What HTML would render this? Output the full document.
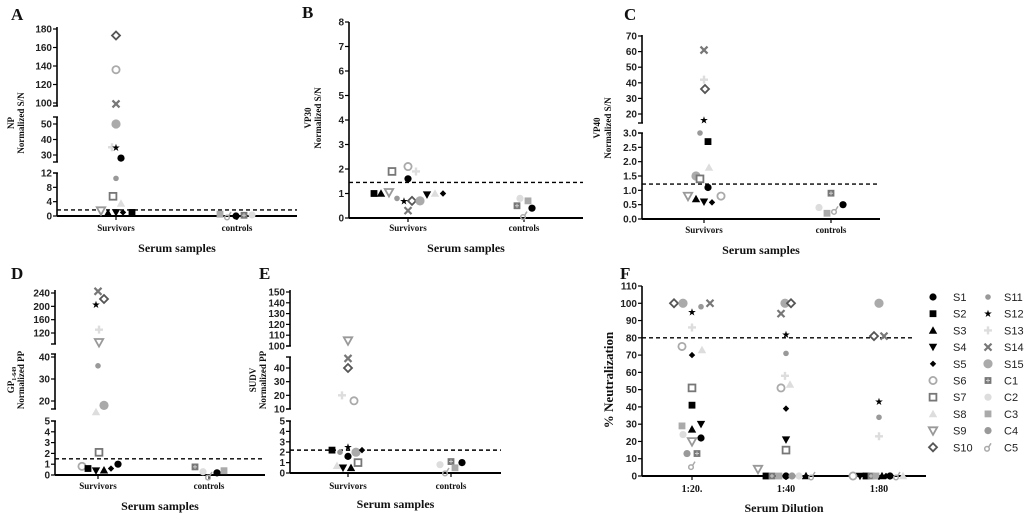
<!DOCTYPE html>
<html><head><meta charset="utf-8">
<style>
html,body{margin:0;padding:0;background:#fff;}
svg{display:block;}
.tk{font-family:"Liberation Sans",sans-serif;font-size:10px;font-weight:bold;fill:#222;}
.sf{font-family:"Liberation Serif",serif;font-weight:bold;fill:#111;}
</style></head>
<body>
<svg id="chart" width="1024" height="518" viewBox="0 0 1024 518" xmlns="http://www.w3.org/2000/svg"></svg>
<script>
// ---------- data ----------
const seriesNames = ["S1","S2","S3","S4","S5","S6","S7","S8","S9","S10","S11","S12","S13","S14","S15","C1","C2","C3","C4","C5"];
const catsAE = ["Survivors","controls"];
const catsF = ["1:20.","1:40","1:80"];
// each point: [series, categoryIndex, value, jitter(px)]
const dataA = [["S10",0,173,0],["S6",0,136,0],["S14",0,99,0],["S15",0,50,0],["S13",0,35,-4],["S12",0,35,0],["S1",0,28,5],["S11",0,10.5,0],["S7",0,5.5,-3],["S8",0,3.5,5],["S9",0,1.5,-15],["S3",0,0.8,-8],["S4",0,1,0],["S5",0,1,7],["S2",0,1,16],
 ["C3",1,0.5,-17],["C5",1,0,-9],["S1",1,0,-1],["C1",1,0.2,7],["C2",1,0.3,15]];
const dataB = [["S2",0,1.0,-34],["S3",0,1.0,-27],["S9",0,1.05,-19],["S11",0,0.8,-11],["S12",0,0.7,-4],["S14",0,0.3,0],["S10",0,0.7,4],["S15",0,0.7,12],["S4",0,0.95,19],["S8",0,1.0,27],["S5",0,1.0,35],["S7",0,1.9,-16],["S6",0,2.1,0],["S13",0,1.9,8],["S1",0,1.6,0],
 ["C1",1,0.5,-7],["C2",1,0.8,-4],["C3",1,0.7,4],["C5",1,0.1,0],["S1",1,0.4,8]];
const dataC = [["S14",0,61,0],["S13",0,42,0],["S10",0,36,1],["S12",0,16,0],["S11",0,3.0,-4],["S2",0,2.7,4],["S8",0,1.8,5],["S15",0,1.5,-8],["S7",0,1.4,-4],["S1",0,1.1,4],["S9",0,0.8,-16],["S3",0,0.7,-8],["S4",0,0.6,0],["S5",0,0.58,8],["S6",0,0.8,17],
 ["C2",1,0.4,-12],["C3",1,0.2,-4],["C5",1,0.3,4],["C1",1,0.9,0],["S1",1,0.5,12]];
const dataD = [["S14",0,245,0],["S10",0,222,6],["S12",0,205,-2],["S13",0,130,1],["S9",0,92,1],["S11",0,36,0],["S15",0,18,6],["S8",0,15,-2],["S7",0,2.1,1],["S6",0,0.8,-16],["S2",0,0.6,-10],["S4",0,0.4,-2],["S3",0,0.45,6],["S5",0,0.6,13],["S1",0,1.0,20],
 ["C1",1,0.75,-14],["C2",1,0.3,-6],["C5",1,-0.1,0],["S1",1,0.2,8],["C3",1,0.4,15]];
const dataE = [["S9",0,105,0],["S14",0,47,0],["S10",0,40,0],["S13",0,20,-6],["S6",0,16,6],["S2",0,2.2,-16],["S11",0,2.0,-8],["S12",0,2.5,0],["S15",0,2.0,8],["S5",0,2.2,14],["S1",0,1.6,0],["S8",0,0.7,-11],["S4",0,0.5,-5],["S3",0,0.5,3],["S7",0,1.0,10],
 ["C2",1,0.8,-11],["C5",1,0.1,-5],["C1",1,1.1,0],["C3",1,0.5,4],["S1",1,1.0,11]];
const dataF = [["S10",0,100,-18],["S15",0,100,-9],["S11",0,98,9],["S14",0,100,18],["S12",0,95,0],["S13",0,86,0],["S6",0,75,-10],["S8",0,73,10],["S5",0,70,0],["S7",0,51,0],["S2",0,41,0],["C3",0,29,-10],["S3",0,27,0],["S4",0,30,9],["C2",0,24,-9],["S9",0,20,0],["S1",0,22,9],["C4",0,13,-5],["C1",0,13,5],["C5",0,6,0],
 ["S15",1,100,-1],["S10",1,100,5],["S14",1,94,-5],["S12",1,82,0],["S11",1,71,0],["S13",1,58,-1],["S6",1,51,-5],["S8",1,53,4],["S5",1,39,0],["S4",1,21,0],["S7",1,15,0],["S9",1,4,-28],["S2",1,0,-20],["C1",1,0,-14],["C3",1,0,-7],["S1",1,0,0],["C4",1,0,6],["C2",1,0,13],["S3",1,0,20],["C5",1,0,26],
 ["S15",2,100,0],["S10",2,81,-5],["S14",2,81,5],["S12",2,43,0],["S11",2,34,0],["S13",2,23,0],["S6",2,0,-26],["S4",2,0,-19],["S2",2,0,-13],["C1",2,0,-8],["C3",2,0,-3],["S3",2,0,3],["S5",2,0,7],["S1",2,0,11],["C5",2,0,18],["S8",2,0,24]];
const thresholds = {A:1.7,B:1.45,C:1.22,D:1.5,E:2.2,F:80};
const ticksA=[[0,4,8,12],[30,40,50],[100,120,140,160,180]];
const ticksB=[[0,1,2,3,4,5,6,7,8]];
const ticksC=[[0,0.5,1,1.5,2,2.5,3],[20,30,40,50,60,70]];
const ticksD=[[0,1,2,3,4,5],[20,30,40],[120,160,200,240]];
const ticksE=[[0,1,2,3,4,5],[10,20,30,40],[100,110,120,130,140,150]];
const ticksF=[0,10,20,30,40,50,60,70,80,90,100,110];

// ---------- drawing ----------
const NS="http://www.w3.org/2000/svg";
const svg=document.getElementById('chart');
function el(tag,attrs,parent){const e=document.createElementNS(NS,tag);for(const k in attrs)e.setAttribute(k,attrs[k]);(parent||svg).appendChild(e);return e;}
function txt(s,attrs,parent){const e=el('text',attrs,parent);e.textContent=s;return e;}

const styles={S1:['circle','#000',1],S2:['square','#000',1],S3:['tri','#000',1],S4:['dtri','#000',1],S5:['sdiam','#000',1],
S6:['circle','#aaa',0],S7:['square','#777',0],S8:['tri','#ddd',1],S9:['dtri','#999',0],S10:['diam','#555',0],
S11:['scircle','#999',1],S12:['star','#000',1],S13:['plus','#ddd',1],S14:['x','#777',1],S15:['bcircle','#aaa',1],
C1:['csquare','#777',1],C2:['circle','#ddd',1],C3:['square','#aaa',1],C4:['circle','#999',1],C5:['male','#aaa',1]};

function marker(g,name,x,y){
  const [t,c,f]=styles[name];
  const fill=f?c:'#fff';
  let e;
  switch(t){
   case 'circle': e=el('circle',{cx:x,cy:y,r:3.6,fill:fill,stroke:c,'stroke-width':f?0:1.8},g);break;
   case 'bcircle': e=el('circle',{cx:x,cy:y,r:4.6,fill:c},g);break;
   case 'scircle': e=el('circle',{cx:x,cy:y,r:2.8,fill:c},g);break;
   case 'square': e=el('rect',{x:x-3.4,y:y-3.4,width:6.8,height:6.8,fill:fill,stroke:c,'stroke-width':f?0:1.8},g);break;
   case 'csquare': e=el('g',{},g);el('rect',{x:x-3.4,y:y-3.4,width:6.8,height:6.8,fill:c},e);el('path',{d:`M${x-2} ${y}H${x+2}M${x} ${y-2}V${y+2}`,stroke:'#ccc','stroke-width':1},e);break;
   case 'tri': e=el('polygon',{points:`${x},${y-4.2} ${x+4.2},${y+3.3} ${x-4.2},${y+3.3}`,fill:fill,stroke:c,'stroke-width':f?0:1.8},g);break;
   case 'dtri': e=el('polygon',{points:`${x},${y+4.2} ${x+4.2},${y-3.3} ${x-4.2},${y-3.3}`,fill:fill,stroke:c,'stroke-width':f?0:1.8},g);break;
   case 'diam': e=el('polygon',{points:`${x},${y-4} ${x+4},${y} ${x},${y+4} ${x-4},${y}`,fill:'#fff',stroke:c,'stroke-width':1.8},g);break;
   case 'sdiam': e=el('polygon',{points:`${x},${y-3.2} ${x+3.2},${y} ${x},${y+3.2} ${x-3.2},${y}`,fill:c},g);break;
   case 'star': e=txt('★',{x:x,y:y+3.5,'text-anchor':'middle','font-size':10,fill:c,'font-family':'DejaVu Sans, sans-serif'},g);break;
   case 'plus': e=el('path',{d:`M${x-4} ${y}H${x+4}M${x} ${y-4}V${y+4}`,stroke:c,'stroke-width':2.4},g);break;
   case 'x': e=el('path',{d:`M${x-3.5} ${y-3.5}L${x+3.5} ${y+3.5}M${x+3.5} ${y-3.5}L${x-3.5} ${y+3.5}`,stroke:c,'stroke-width':2.2},g);break;
   case 'male': e=el('g',{},g);el('circle',{cx:x-1,cy:y+1.5,r:2.3,fill:'none',stroke:c,'stroke-width':1.5},e);el('path',{d:`M${x+0.5} ${y}L${x+3} ${y-4}`,stroke:c,'stroke-width':1.5},e);break;
  }
  
  
  return e;
}

function makeScale(segs){
  segs.forEach(s=>{s.k=(s.p1-s.p0)/(s.hi-s.lo);s.dlo=s.lo+(s.aBot-s.p0)/s.k;s.dhi=s.lo+(s.aTop-s.p0)/s.k;});
  return v=>{let best=null,bd=1e9;for(const s of segs){const d=v<s.dlo?s.dlo-v:(v>s.dhi?v-s.dhi:0);const dn=d/(s.dhi-s.dlo);if(dn<bd){bd=dn;best=s;}}return best.p0+(v-best.lo)*best.k;};
}

function panel(cfg){
  const g=el('g',{});
  
  
  const y=makeScale(cfg.segs);
  const xs=cfg.cats.map((c,i)=>cfg.catX[i]);
  cfg.segs.forEach((s,si)=>{
    const a=el('line',{x1:cfg.ax,x2:cfg.ax,y1:s.aTop,y2:s.aBot,stroke:'#000','stroke-width':1.6},g);
    
    
    if(cfg.segs.length>1){
      if(si>0) el('line',{x1:cfg.ax-4,x2:cfg.ax+1,y1:s.aBot,y2:s.aBot,stroke:'#000','stroke-width':1.4},g);
      if(si<cfg.segs.length-1) el('line',{x1:cfg.ax-4,x2:cfg.ax+1,y1:s.aTop,y2:s.aTop,stroke:'#000','stroke-width':1.4},g);
    }
    s.ticks.forEach(t=>{
      const ty=y(t);
      el('line',{x1:cfg.ax-4,x2:cfg.ax,y1:ty,y2:ty,stroke:'#000','stroke-width':1.2},g);
      const lb=txt(cfg.fmt?cfg.fmt(t):String(t),{x:cfg.ax-5,y:ty+3.5,'text-anchor':'end',class:'tk'},g);
      
      
    });
  });
  const y0=y(0);
  const xa=el('line',{x1:cfg.ax,x2:cfg.xEnd,y1:y0,y2:y0,stroke:'#000','stroke-width':2},g);
  
  
  cfg.cats.forEach((c,i)=>{
    el('line',{x1:xs[i],x2:xs[i],y1:y0,y2:y0+4,stroke:'#000','stroke-width':1.2},g);
    const l=txt(c,{x:xs[i],y:cfg.catY,'text-anchor':'middle',class:'sf','font-size':cfg.catFs||9},g);
    
    
  });
  const ty=y(cfg.thr);
  const d=el('line',{x1:cfg.ax,x2:cfg.dEnd||cfg.xEnd,y1:ty,y2:ty,stroke:'#000','stroke-width':1.4,'stroke-dasharray':'4,3'},g);
  
  
  cfg.data.forEach(p=>marker(g,p[0],xs[p[1]]+p[3],y(p[2])));
  const xt=txt(cfg.xTitle,{x:(cfg.ax+cfg.xEnd)/2,y:cfg.xtY,'text-anchor':'middle',class:'sf','font-size':12},g);
  
  
  const L=txt(cfg.id,{x:cfg.lx,y:cfg.ly,class:'sf','font-size':17},g);
  
  
  cfg.yt.forEach(t=>{
    const e=txt('',{x:t[1],y:t[2],'text-anchor':'middle',class:'sf','font-size':t[3]||9,transform:`rotate(-90 ${t[1]} ${t[2]})`},g);
    if(Array.isArray(t[0])){e.textContent=t[0][0];const s=el('tspan',{'font-size':6,dy:2},e);s.textContent=t[0][1];}
    else e.textContent=t[0];
    
    
  });
}

panel({id:'A',data:dataA,thr:thresholds.A,cats:catsAE,catX:[116,237],ax:57,xEnd:297,catY:231,xtY:252,xTitle:'Serum samples',lx:11,ly:20,
 segs:[{lo:0,hi:12,p0:216,p1:173,aBot:216,aTop:173,ticks:ticksA[0]},{lo:30,hi:50,p0:155,p1:124,aBot:162,aTop:117,ticks:ticksA[1]},{lo:100,hi:180,p0:103,p1:29,aBot:106,aTop:27,ticks:ticksA[2]}],
 yt:[['NP',14,123],['Normalized S/N',24,123]]});
panel({id:'B',data:dataB,thr:thresholds.B,cats:catsAE,catX:[408,524],ax:349,xEnd:583,catY:231,xtY:252,xTitle:'Serum samples',lx:302,ly:18,
 segs:[{lo:0,hi:8,p0:218,p1:22,aBot:218,aTop:22,ticks:ticksB[0]}],
 yt:[['VP30',311,118],['Normalized S/N',321,118]]});
panel({id:'C',data:dataC,thr:thresholds.C,cats:catsAE,catX:[704,831],ax:642,xEnd:880,catY:233,xtY:254,xTitle:'Serum samples',lx:624,ly:20,fmt:t=>t<10?t.toFixed(1):String(t),
 segs:[{lo:0,hi:3,p0:219,p1:133,aBot:219,aTop:133,ticks:ticksC[0]},{lo:20,hi:70,p0:114,p1:36,aBot:123,aTop:35,ticks:ticksC[1]}],
 yt:[['VP40',600,128],['Normalized S/N',611,128]]});
panel({id:'D',data:dataD,thr:thresholds.D,cats:catsAE,catX:[98,209],ax:55,xEnd:265,catY:489,xtY:510,xTitle:'Serum samples',lx:11,ly:279,
 segs:[{lo:0,hi:5,p0:475,p1:421,aBot:475,aTop:421,ticks:ticksD[0]},{lo:20,hi:40,p0:401,p1:357,aBot:409,aTop:354,ticks:ticksD[1]},{lo:120,hi:240,p0:333,p1:293,aBot:344,aTop:290,ticks:ticksD[2]}],
 yt:[[['GP','1-649'],14,380],['Normalized PP',24,380]]});
panel({id:'E',data:dataE,thr:thresholds.E,cats:catsAE,catX:[348,451],ax:290,xEnd:501,catY:489,xtY:508,xTitle:'Serum samples',lx:259,ly:279,
 segs:[{lo:0,hi:5,p0:473,p1:421,aBot:473,aTop:421,ticks:ticksE[0]},{lo:10,hi:40,p0:409,p1:368,aBot:409,aTop:357,ticks:ticksE[1]},{lo:100,hi:150,p0:346,p1:292,aBot:346,aTop:290,ticks:ticksE[2]}],
 yt:[['SUDV',256,380],['Normalized PP',266,380]]});
panel({id:'F',data:dataF,thr:thresholds.F,cats:catsF,catX:[692,786,879],ax:642,xEnd:926,dEnd:913,catY:492,xtY:512,xTitle:'Serum Dilution',lx:620,ly:279,catFs:10,
 segs:[{lo:0,hi:110,p0:476,p1:286,aBot:476,aTop:286,ticks:ticksF}],
 yt:[['% Neutralization',613,380,13]]});

const lg=el('g',{});


seriesNames.forEach((n,i)=>{
  const col=i<10?0:1,row=i%10;
  const mx=col?988:933,yy=297+row*16.7;
  const eg=el('g',{},lg);
  
  
  marker(eg,n,mx,yy);
  txt(n,{x:col?1004:953,y:yy+4,'font-family':'Liberation Sans, sans-serif','font-size':11,fill:'#222'},eg);
});
</script>
</body></html>
